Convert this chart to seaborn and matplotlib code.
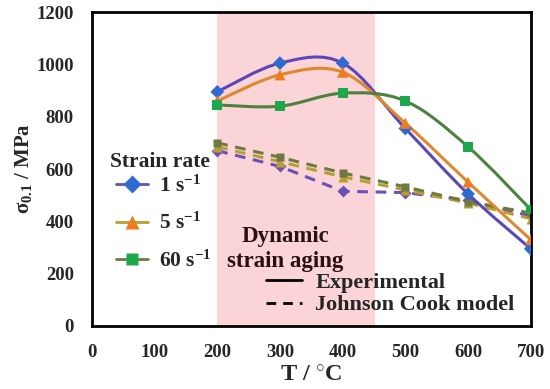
import numpy as np
import pandas as pd
import matplotlib
matplotlib.use("Agg")
import matplotlib.pyplot as plt
from matplotlib.path import Path
from matplotlib.patches import PathPatch
from matplotlib.lines import Line2D
import seaborn as sns

# datos
temperatura = [200, 300, 400, 500, 600, 700]
exp_1 = [895, 1005, 1005, 755, 505, 295]
exp_5 = [860, 960, 970, 775, 550, 330]
exp_60 = [845, 840, 890, 860, 685, 445]
jc_1 = [670, 610, 515, 510, 480, 420]
jc_5 = [685, 628, 570, 520, 470, 410]
jc_60 = [700, 645, 585, 532, 475, 432]
tasas = ["1 s$^{-1}$", "5 s$^{-1}$", "60 s$^{-1}$"]
zona_dsa = (200, 452)

sns.set_theme(style="white")
plt.rcParams["font.family"] = ["Liberation Serif", "DejaVu Serif"]
plt.rcParams["font.weight"] = "bold"
plt.rcParams["axes.labelweight"] = "bold"
plt.rcParams["mathtext.fontset"] = "custom"
plt.rcParams["mathtext.rm"] = "Liberation Serif:bold"
plt.rcParams["mathtext.it"] = "Liberation Serif:bold"
plt.rcParams["mathtext.bf"] = "Liberation Serif:bold"

estilos = [
    dict(marker="D", mc="#2F6AD0", lc="#5A48B8", jc="#6A50B8", ms=7),
    dict(marker="^", mc="#EE7D22", lc="#E0882C", jc="#B8A030", ms=8),
    dict(marker="s", mc="#1EA84E", lc="#4E8040", jc="#6E7A40", ms=7),
]


def curva_suave(ax, x, y, color):
    """Línea suavizada tipo Excel (Catmull-Rom como Bézier cúbica)."""
    p = np.column_stack([x, y]).astype(float)
    ext = np.vstack([p[0], p, p[-1]])
    verts = [p[0]]
    codes = [Path.MOVETO]
    t = 1 / 6
    for i in range(1, len(ext) - 2):
        c1 = ext[i] + (ext[i + 1] - ext[i - 1]) * t
        c2 = ext[i + 1] - (ext[i + 2] - ext[i]) * t
        verts += [c1, c2, ext[i + 1]]
        codes += [Path.CURVE4] * 3
    ax.add_patch(PathPatch(Path(verts, codes), fill=False, edgecolor=color, lw=2.2, zorder=3))


fig, ax = plt.subplots(figsize=(5.5, 3.89), dpi=100)
fig.subplots_adjust(left=0.167, right=0.965, top=0.969, bottom=0.162)

ax.axvspan(*zona_dsa, color="#FAD4D6", zorder=0, lw=0)

for exp, jc, est in zip([exp_1, exp_5, exp_60], [jc_1, jc_5, jc_60], estilos):
    df_jc = pd.DataFrame({"T": temperatura, "s": jc})
    sns.lineplot(data=df_jc, x="T", y="s", ax=ax, color=est["jc"], lw=2.2,
                 linestyle=(0, (3.5, 2.5)), marker=est["marker"], markersize=est["ms"] - 1,
                 markeredgecolor="none", zorder=2)
    curva_suave(ax, temperatura, exp, est["lc"])
    df_exp = pd.DataFrame({"T": temperatura, "s": exp})
    sns.scatterplot(data=df_exp, x="T", y="s", ax=ax, color=est["mc"], marker=est["marker"],
                    s=est["ms"] ** 2, edgecolor="none", zorder=4)

ax.set_xlim(0, 700)
ax.set_ylim(0, 1200)
ax.set_xticks(range(0, 701, 100))
ax.set_yticks(range(0, 1201, 200))
ax.tick_params(direction="in", length=5, width=1.5, labelsize=13.5, pad=13)
ax.tick_params(axis="x", pad=13)
for sp in ax.spines.values():
    sp.set_linewidth(2)
    sp.set_color("black")
ax.set_xlabel("T / $^{\\circ}$C", fontsize=17.5, fontweight="bold", labelpad=3)
ax.set_ylabel("$\\sigma_{0.1}$ / MPa", fontsize=15, fontweight="bold", labelpad=2)

ax.text(309, 296, "Dynamic\nstrain aging", ha="center", va="center", fontsize=16.5,
        color="#2A1010", linespacing=1.25)

# leyenda de velocidad de deformación
ax.text(0.041, 0.522, "Strain rate", transform=ax.transAxes, ha="left", va="center",
        fontsize=15.5, fontweight="bold")
h_tasa = [Line2D([], [], color=e["jc"], lw=2, marker=e["marker"], markersize=e["ms"] + 2,
                 markerfacecolor=e["mc"], markeredgecolor="none") for e in estilos]
leg1 = ax.legend(h_tasa, tasas, loc="center left", bbox_to_anchor=(0.05, 0.326),
                 frameon=False, fontsize=15.5, handlelength=1.5, labelspacing=0.76,
                 handletextpad=0.5, borderpad=0.1, borderaxespad=0)
ax.add_artist(leg1)

h_tipo = [Line2D([], [], color="black", lw=2),
          Line2D([], [], color="black", lw=2, linestyle=(0, (3.5, 2.5)))]
ax.legend(h_tipo, ["Experimental", "Johnson Cook model"], loc="lower right",
          bbox_to_anchor=(0.968, 0.027), frameon=False, fontsize=16, handlelength=1.6,
          labelspacing=0.1, handletextpad=0.6, borderpad=0.1, borderaxespad=0)

plt.savefig("out.png", dpi=100)
plt.close()
